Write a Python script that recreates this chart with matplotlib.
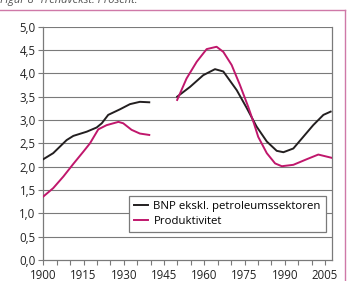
import matplotlib
matplotlib.use("Agg")
import matplotlib.pyplot as plt
from matplotlib.lines import Line2D

# BNP ekskl. petroleumssektoren, trend growth (percent)
bnp_years_1 = [1900, 1903.7, 1908.7, 1911.2, 1916.2, 1919.9, 1921.8, 1924.2, 1928.6, 1932.3, 1936.0, 1939.5]
bnp_vals_1 = [2.16, 2.29, 2.57, 2.66, 2.75, 2.84, 2.93, 3.11, 3.23, 3.34, 3.39, 3.38]
bnp_years_2 = [1949.9, 1954.7, 1959.6, 1964.0, 1967.1, 1972.1, 1975.8, 1979.5, 1983.3, 1987.0,
               1989.5, 1993.2, 1996.9, 2000.6, 2004.4, 2007.1]
bnp_vals_2 = [3.50, 3.71, 3.96, 4.09, 4.04, 3.64, 3.26, 2.86, 2.54, 2.34, 2.31, 2.39, 2.64, 2.89, 3.11, 3.18]

# Produktivitet
prod_years_1 = [1900, 1903.7, 1907.5, 1911.2, 1914.9, 1917.4, 1920.5, 1923.6, 1928.0, 1929.8, 1932.9,
                1936.0, 1939.5]
prod_vals_1 = [1.36, 1.54, 1.79, 2.06, 2.32, 2.50, 2.80, 2.89, 2.96, 2.93, 2.79, 2.71, 2.68]
prod_years_2 = [1949.9, 1953.4, 1957.2, 1960.9, 1964.6, 1967.1, 1970.2, 1973.3, 1976.4, 1978.5, 1980.1,
                1983.3, 1986.4, 1988.9, 1993.2, 1998.2, 2002.5, 2007.5]
prod_vals_2 = [3.43, 3.89, 4.25, 4.52, 4.57, 4.46, 4.18, 3.75, 3.28, 2.93, 2.64, 2.29, 2.07, 2.01, 2.04,
               2.16, 2.26, 2.19]

labels = ["BNP ekskl. petroleumssektoren", "Produktivitet"]
xtick_years = [1900, 1915, 1930, 1945, 1960, 1975, 1990, 2005]
ytick_vals = [0.0, 0.5, 1.0, 1.5, 2.0, 2.5, 3.0, 3.5, 4.0, 4.5, 5.0]

black = "#231f20"
magenta = "#c0176c"
pink = "#cf79a8"
grey = "#7a7a7a"

plt.rcParams["font.family"] = ["Open Sans", "DejaVu Sans"]

fig = plt.figure(figsize=(3.49, 2.81), dpi=100)
ax = fig.add_axes([0.124, 0.0747, 0.828, 0.8303])

# pink frame (top and right) and caption, cut by the top edge as in the source
fig.add_artist(Line2D([0, 0.989], [0.964, 0.964], color=pink, lw=1.0, transform=fig.transFigure))
fig.add_artist(Line2D([0.989, 0.989], [0, 0.964], color=pink, lw=1.0, transform=fig.transFigure))
fig.text(0.0, 1.0, "Figur 8  Trendvekst. Prosent.", fontsize=8, color="#555555",
         va="center", ha="left", fontstyle="italic")

for v in ytick_vals[1:]:
    ax.axhline(v, color=grey, lw=0.8, zorder=1)

ax.plot(bnp_years_1, bnp_vals_1, color=black, lw=1.4, zorder=3)
ax.plot(bnp_years_2, bnp_vals_2, color=black, lw=1.4, zorder=3, label=labels[0])
ax.plot(prod_years_1, prod_vals_1, color=magenta, lw=1.4, zorder=3)
ax.plot(prod_years_2, prod_vals_2, color=magenta, lw=1.4, zorder=3, label=labels[1])

ax.set_xlim(1900, 2007.7)
ax.set_ylim(0, 5)
ax.set_yticks(ytick_vals)
ax.set_yticklabels([f"{v:.1f}".replace(".", ",") for v in ytick_vals])
ax.set_xticks(list(range(1900, 2006, 5)))
ax.set_xticklabels([str(y) if y in xtick_years else "" for y in range(1900, 2006, 5)])

for s in ["left", "bottom", "right"]:
    ax.spines[s].set_color(grey)
    ax.spines[s].set_linewidth(0.9)
ax.spines["top"].set_visible(False)
ax.tick_params(axis="both", colors=grey, length=3.5, width=0.8, labelsize=8.3, labelcolor="#222222")
ax.tick_params(axis="y", pad=2)
ax.tick_params(axis="x", pad=3)

leg = ax.legend(loc="lower right", bbox_to_anchor=(0.978, 0.121), fontsize=8.2, frameon=True,
                fancybox=False, handlelength=1.2, handletextpad=0.5, borderpad=0.45,
                labelspacing=0.35, borderaxespad=0)
leg.get_frame().set_edgecolor(grey)
leg.get_frame().set_linewidth(0.9)
leg.get_frame().set_alpha(1)

fig.savefig("out.png", dpi=100)
